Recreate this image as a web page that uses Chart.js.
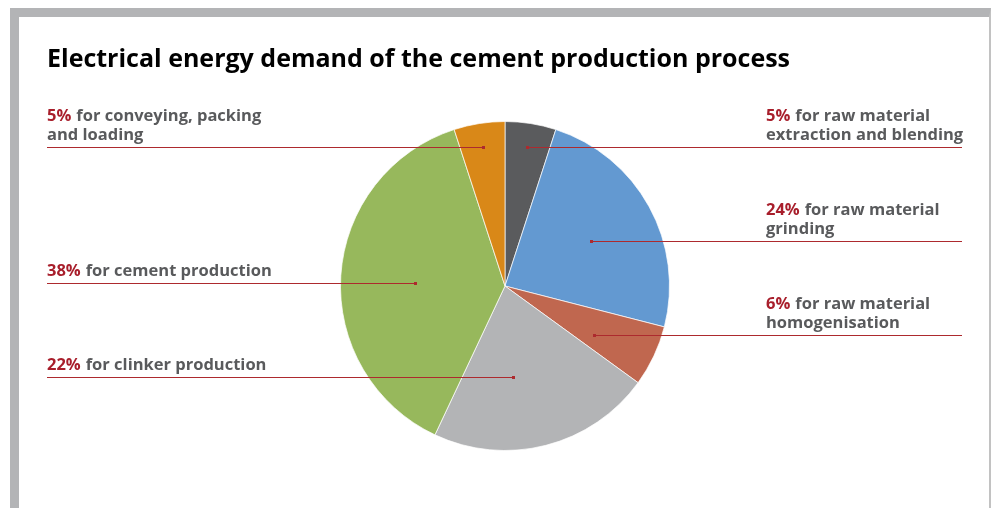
<!DOCTYPE html>
<html>
<head>
<meta charset="utf-8">
<title>Electrical energy demand of the cement production process</title>
<script src="https://cdn.jsdelivr.net/npm/chart.js@4.4.1/dist/chart.umd.min.js"></script>
<style>
  html, body { margin: 0; padding: 0; background: #fff; }
  body { width: 992px; height: 508px; position: relative; overflow: hidden; }
  #frame {
    position: absolute; left: 10px; top: 8px; width: 970px; height: 520px;
    border-top: 9px solid #b3b4b6; border-left: 9px solid #b3b4b6; border-right: 2px solid #c2c2c2;
  }
  #myChart { position: absolute; left: 0; top: 0; }
</style>
</head>
<body>
<div id="frame"></div>
<canvas id="myChart" width="992" height="508"></canvas>
<script>
const titleText = "Electrical energy demand of the cement production process";

// slices, clockwise from 12 o'clock
const categories = [
  "for raw material extraction and blending",
  "for raw material grinding",
  "for raw material homogenisation",
  "for clinker production",
  "for cement production",
  "for conveying, packing and loading",
];
const shares = [5, 24, 6, 22, 38, 5];
const labelLines = [
  ["for raw material", "extraction and blending"],
  ["for raw material", "grinding"],
  ["for raw material", "homogenisation"],
  ["for clinker production"],
  ["for cement production"],
  ["for conveying, packing", "and loading"],
];
const sliceColors = ["#5a5b5d", "#6399d1", "#c0674f", "#b3b4b6", "#97b85c", "#d98818"];

// where the callouts sit: side of the chart, y of the leader line,
// and how deep into the slice the leader line reaches (share of radius)
const labelLayout = [
  { side: "right", y: 147, depth: 0.85 },
  { side: "right", y: 241, depth: 0.6 },
  { side: "right", y: 335, depth: 0.6 },
  { side: "left", y: 377, depth: 0.2 },
  { side: "left", y: 283, depth: 0.55 },
  { side: "left", y: 147, depth: 0.85 },
];

const red = "#a81e2b";
const grey = "#595a5c";
const lineColor = "#ad2a2e";
const font = '"Open Sans", "DejaVu Sans", sans-serif';

const calloutPlugin = {
  id: "callouts",
  afterDraw(chart) {
    const ctx = chart.ctx;
    const arcs = chart.getDatasetMeta(0).data;
    ctx.save();
    ctx.textBaseline = "alphabetic";
    ctx.textAlign = "left";

    ctx.font = "bold 25px " + font;
    ctx.fillStyle = "#000";
    ctx.fillText(titleText, 47, 67);

    arcs.forEach((arc, i) => {
      const p = arc.getProps(["x", "y", "startAngle", "endAngle", "outerRadius"], true);
      const mid = (p.startAngle + p.endAngle) / 2;
      const lay = labelLayout[i];
      const mx = Math.round(p.x + Math.cos(mid) * p.outerRadius * lay.depth);
      const ly = lay.y;

      // leader line
      ctx.fillStyle = lineColor;
      if (lay.side === "left") {
        ctx.fillRect(47, ly, mx - 47, 1);
      } else {
        ctx.fillRect(mx, ly, 962 - mx, 1);
      }
      ctx.fillRect(mx - 1, ly - 1, 3, 3);

      // text
      ctx.font = "bold 16.5px " + font;
      const lines = labelLines[i];
      const tx = lay.side === "left" ? 47 : 766;
      lines.forEach((t, j) => {
        const base = ly - 7 - (lines.length - 1 - j) * 19.5;
        let cx = tx;
        if (j === 0) {
          const pct = shares[i] + "%";
          ctx.fillStyle = red;
          ctx.fillText(pct, cx, base);
          cx += ctx.measureText(pct).width + 5;
        }
        ctx.fillStyle = grey;
        ctx.fillText(t, cx, base);
      });
    });
    ctx.restore();
  },
};

new Chart(document.getElementById("myChart"), {
  type: "pie",
  data: {
    labels: categories,
    datasets: [{
      data: shares,
      backgroundColor: sliceColors,
      borderColor: "rgba(255,255,255,0.7)",
      borderWidth: 1,
      hoverOffset: 0,
    }],
  },
  options: {
    responsive: false,
    animation: false,
    devicePixelRatio: 1,
    layout: { padding: { left: 340, right: 322, top: 121, bottom: 57 } },
    plugins: {
      legend: { display: false },
      tooltip: { enabled: false },
      title: { display: false },
    },
  },
  plugins: [calloutPlugin],
});
</script>
</body>
</html>
